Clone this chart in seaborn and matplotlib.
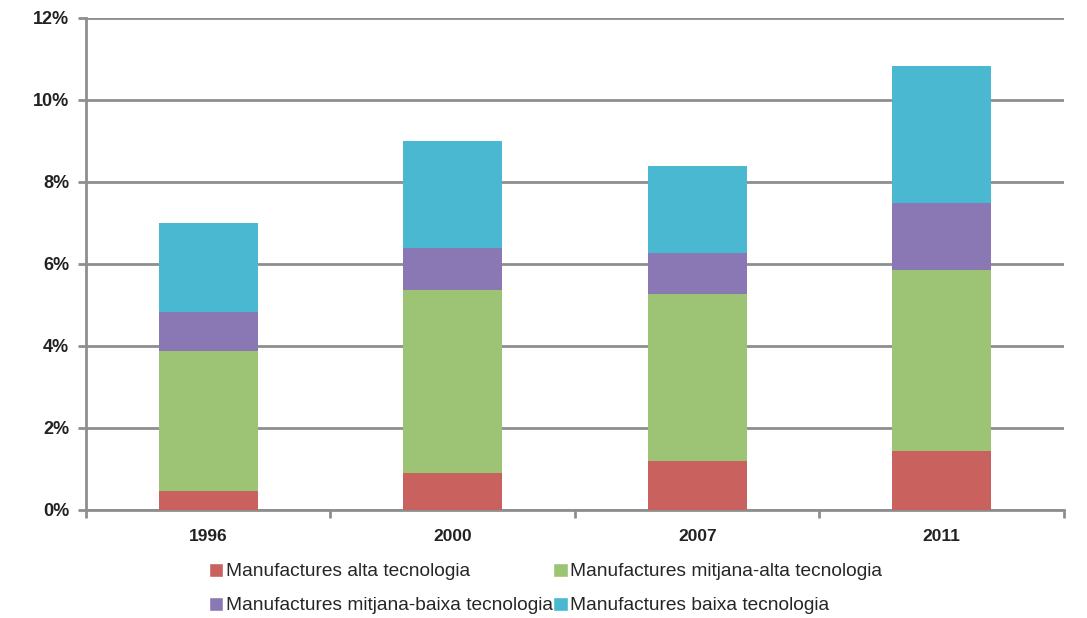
import pandas as pd
import matplotlib.pyplot as plt
import seaborn as sns
from matplotlib.patches import Patch
from matplotlib.ticker import FuncFormatter

# Data (share in %)
years = ['1996', '2000', '2007', '2011']
alta = [0.46, 0.90, 1.20, 1.44]
mitjana_alta = [3.42, 4.47, 4.07, 4.41]
mitjana_baixa = [0.95, 1.02, 1.00, 1.64]
baixa = [2.17, 2.61, 2.12, 3.34]

labels = ['Manufactures alta tecnologia',
          'Manufactures mitjana-alta tecnologia',
          'Manufactures mitjana-baixa tecnologia',
          'Manufactures baixa tecnologia']
colors = ['#C9625F', '#9CC474', '#8A78B4', '#4AB8D1']


def draw_stacked_bars():
    df = pd.DataFrame({'year': years, labels[0]: alta, labels[1]: mitjana_alta,
                       labels[2]: mitjana_baixa, labels[3]: baixa})
    # cumulative totals, drawn from the top layer down
    cum = df[labels].cumsum(axis=1)

    sns.set_style('white')
    plt.rcParams['font.family'] = ['Liberation Sans', 'DejaVu Sans']

    fig = plt.figure(figsize=(10.87, 6.18), dpi=100)
    ax = fig.add_axes([0.0791, 0.1748, 0.8997, 0.7961])

    for lab, col in reversed(list(zip(labels, colors))):
        sns.barplot(x=df['year'], y=cum[lab], color=col, width=0.405,
                    saturation=1, ax=ax, zorder=3, linewidth=0)

    ax.set_ylim(0, 12)
    ax.set_xlim(-0.5, 3.5)
    ax.set_yticks(range(0, 13, 2))
    ax.yaxis.set_major_formatter(FuncFormatter(lambda v, p: f'{v:.0f}%'))
    ax.grid(axis='y', color='#8e8e8e', linewidth=2, zorder=0)
    ax.set_axisbelow(True)
    ax.set_xlabel('')
    ax.set_ylabel('')

    for side in ['top', 'right']:
        ax.spines[side].set_visible(False)
    for side in ['left', 'bottom']:
        ax.spines[side].set_color('#8e8e8e')
        ax.spines[side].set_linewidth(2)

    ax.tick_params(axis='y', length=6, width=2, color='#8e8e8e',
                   labelsize=13, labelcolor='#222222', pad=6, left=True)
    ax.tick_params(axis='x', length=0, labelsize=12.5, labelcolor='#222222', pad=14)
    # small tick marks between categories on the x axis
    ax.set_xticks([-0.5, 0.5, 1.5, 2.5, 3.5], minor=True)
    ax.tick_params(axis='x', which='minor', length=6, width=2, color='#8e8e8e', bottom=True)
    for t in ax.get_yticklabels() + ax.get_xticklabels():
        t.set_fontweight('bold')

    order = [0, 2, 1, 3]
    handles = [Patch(facecolor=colors[i], label=labels[i]) for i in order]
    fig.legend(handles=handles, loc='lower center', bbox_to_anchor=(0.502, -0.022),
               ncol=2, frameon=False, fontsize=13.8, handlelength=0.75,
               handleheight=0.75, handletextpad=0.15, columnspacing=0.0,
               labelspacing=0.85)
    return fig


if __name__ == '__main__':
    fig = draw_stacked_bars()
    fig.savefig('out.png', dpi=100)
